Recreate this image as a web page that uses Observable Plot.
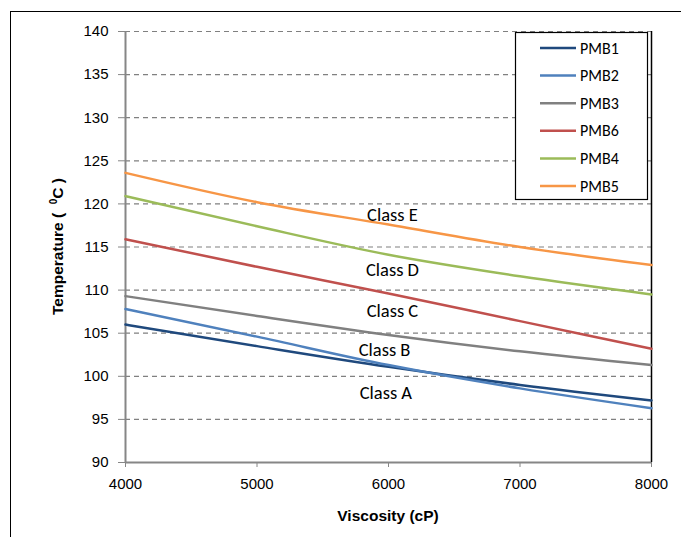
<!DOCTYPE html>
<html><head><meta charset="utf-8">
<script src="https://cdn.jsdelivr.net/npm/d3@7"></script>
<script src="https://cdn.jsdelivr.net/npm/@observablehq/plot@0.6"></script>
<style>
body{margin:0;width:681px;height:537px;overflow:hidden;background:#fff;position:relative}
#frame{position:absolute;left:10px;top:11px;width:700px;height:600px;border:1.5px solid #000;box-sizing:border-box}
#chart{position:absolute;left:0;top:0}
</style></head><body>
<div id="frame"></div><div id="chart"></div>
<script>
// ---- data ----
const viscosity = [4000, 5000, 6000, 7000, 8000];
const seriesNames = ["PMB1", "PMB2", "PMB3", "PMB6", "PMB4", "PMB5"];
const pmb1 = [106.0, 103.5, 101.1, 99.0, 97.2];
const pmb2 = [107.8, 104.6, 101.3, 98.6, 96.3];
const pmb3 = [109.3, 107.0, 104.8, 102.9, 101.3];
const pmb6 = [115.9, 112.7, 109.6, 106.4, 103.2];
const pmb4 = [120.9, 117.4, 114.1, 111.6, 109.5];
const pmb5 = [123.6, 120.2, 117.6, 115.0, 112.9];
const seriesValues = [pmb1, pmb2, pmb3, pmb6, pmb4, pmb5];
const seriesColors = ["#1F497D", "#4F81BD", "#808080", "#C0504D", "#9BBB59", "#F79646"];
const xTicks = [4000, 5000, 6000, 7000, 8000];
const yTicks = [90, 95, 100, 105, 110, 115, 120, 125, 130, 135, 140];
const classNames = ["Class A", "Class B", "Class C", "Class D", "Class E"];
const classX = [5980, 5970, 6030, 6030, 6030];
const classY = [98.1, 103.0, 107.6, 112.3, 118.65];

const rows = seriesNames.flatMap((s, i) => viscosity.map((v, j) => ({series: s, x: v, y: seriesValues[i][j]})));
const classRows = classNames.map((c, i) => ({text: c, x: classX[i], y: classY[i]}));

const W = 681, H = 537, mL = 125, mR = 30, mT = 31, mB = 75;
const calibri = "Carlito, Lato, 'Open Sans', sans-serif";
const arial = "'Liberation Sans', Arial, sans-serif";

const plot = Plot.plot({
  width: W, height: H, marginLeft: mL, marginRight: mR, marginTop: mT, marginBottom: mB,
  style: {fontFamily: arial, fontSize: "15px", color: "#000", background: "transparent", overflow: "visible"},
  x: {domain: [4000, 8000]},
  y: {domain: [90, 140]},
  color: {domain: seriesNames, range: seriesColors},
  marks: [
    Plot.gridY(yTicks.filter(t => t > 90), {stroke: "#808080", strokeOpacity: 1, strokeDasharray: "5,4", strokeWidth: 1.2}),
    Plot.ruleX([8000], {stroke: "#000", strokeWidth: 1.5}),
    Plot.ruleX([4000], {stroke: "#868686", strokeWidth: 2}),
    Plot.ruleY([90], {stroke: "#868686", strokeWidth: 2}),
    Plot.axisY({ticks: yTicks, tickSize: 7, tickPadding: 10, label: null, stroke: "#868686", fill: "#000", fontSize: 15, tickFormat: d => String(d)}),
    Plot.axisX({ticks: xTicks, tickSize: 5, tickPadding: 11, label: null, stroke: "#868686", fill: "#000", fontSize: 15, tickFormat: d => String(d)}),
    Plot.line(rows, {x: "x", y: "y", z: "series", stroke: "series", strokeWidth: 2.5, curve: "monotone-x"}),
    Plot.text(classRows, {x: "x", y: "y", text: "text", fontFamily: calibri, fontSize: 18.5, fill: "#000"})
  ]
});
document.getElementById("chart").append(plot);

const svg = d3.select(plot);
// axis titles
svg.append("text").attr("x", (mL + W - mR) / 2).attr("y", 521).attr("text-anchor", "middle")
  .attr("font-family", arial).attr("font-weight", "bold").attr("font-size", 15.5)
  .text("Viscosity (cP)");
const yt = svg.append("text").attr("transform", `translate(63,${(mT + H - mB) / 2}) rotate(-90)`).attr("text-anchor", "middle")
  .attr("font-family", arial).attr("font-weight", "bold").attr("font-size", 15.5);
yt.append("tspan").text("Temperature (  ");
yt.append("tspan").attr("dy", -6).attr("font-size", 10).text("0");
yt.append("tspan").attr("dy", 6).text("C )");

// legend
const lg = svg.append("g");
lg.append("rect").attr("x", 515.5).attr("y", 32.5).attr("width", 132).attr("height", 167)
  .attr("fill", "#fff").attr("stroke", "#000").attr("stroke-width", 1.2);
seriesNames.forEach((s, i) => {
  const yy = 48 + i * 27.6;
  lg.append("line").attr("x1", 540).attr("x2", 576).attr("y1", yy).attr("y2", yy)
    .attr("stroke", seriesColors[i]).attr("stroke-width", 2.5);
  lg.append("text").attr("x", 580).attr("y", yy).attr("dy", "0.35em").attr("text-anchor", "start")
    .attr("font-family", calibri).attr("font-size", 16).text(s);
});
</script>
</body></html>
